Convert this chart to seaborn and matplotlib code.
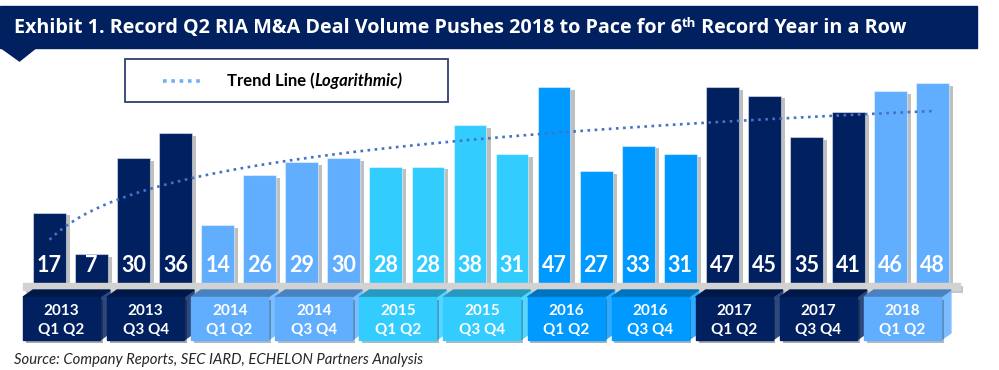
import matplotlib
matplotlib.use("Agg")
import matplotlib.pyplot as plt
import matplotlib.patheffects as pe
from matplotlib.patches import Rectangle, Polygon
from matplotlib.lines import Line2D
from matplotlib.colors import to_rgb
import numpy as np
import seaborn as sns

# data (deal count per quarter)
bar_pos = list(range(1, 23))
deals = [17, 7, 30, 36, 14, 26, 29, 30, 28, 28, 38, 31,
         47, 27, 33, 31, 47, 45, 35, 41, 46, 48]
bar_years = ["2013"] * 4 + ["2014"] * 4 + ["2015"] * 4 + ["2016"] * 4 + ["2017"] * 4 + ["2018"] * 2
box_years = ["2013", "2013", "2014", "2014", "2015", "2015", "2016", "2016", "2017", "2017", "2018"]
box_halves = ["Q1 Q2", "Q3 Q4", "Q1 Q2", "Q3 Q4", "Q1 Q2", "Q3 Q4", "Q1 Q2", "Q3 Q4", "Q1 Q2", "Q3 Q4", "Q1 Q2"]

NAVY = "#002060"
year_colors = {"2013": NAVY, "2014": "#61AEFF", "2015": "#33CCFF",
               "2016": "#0099FF", "2017": NAVY, "2018": "#61AEFF"}

sns.set_theme(style="white")
plt.rcParams["font.family"] = ["Lato", "DejaVu Sans"]

W, H = 999, 370
fig = plt.figure(figsize=(W / 100, H / 100), dpi=100)

# main axes: placed so that 1 unit = 42.05 px in x and 4.18 px in y
px_x, px_y, base_px = 42.05, 4.18, 283.7
ax = fig.add_axes([28.5 / W, (H - base_px) / H, 925 / W, 223.7 / H])

sns.barplot(x=bar_pos, y=deals, hue=bar_years, palette=year_colors, native_scale=True,
            width=0.78, dodge=False, legend=False, saturation=1, ax=ax,
            edgecolor=(1, 1, 1, 0.45), linewidth=0.8)
for p in ax.patches:
    p.set_path_effects([pe.SimplePatchShadow(offset=(3, -2), shadow_rgbFace="#8c8c8c", alpha=0.55),
                        pe.Normal()])

# logarithmic trend line
sns.regplot(x=bar_pos, y=deals, logx=True, ci=None, scatter=False, ax=ax,
            line_kws=dict(color="#4472C4", lw=1.9, linestyle=(0, (1, 1.7)), zorder=3))

ax.set_xlim(0.5, 22.5)
ax.set_ylim(0, 53.5)
ax.axis("off")

# value labels inside bars
for x, v in zip(bar_pos, deals):
    ax.text(x, 4.47, str(v), ha="center", va="center", color="white",
            fontsize=15.5, fontweight="bold", zorder=4)


def dy(px):
    return (base_px - px) / px_y


def dx(px):
    return (px - 28.5) / px_x + 0.5


def shade(c, f):
    r = np.array(to_rgb(c))
    return tuple(r * (1 - f)) if f > 0 else tuple(r + (1 - r) * (-f))


# grey base strip
ax.add_patch(Rectangle((dx(23), dy(290)), dx(960) - dx(23), dy(283.2) - dy(290),
                       color="#d2d2d2", clip_on=False, zorder=1,
                       path_effects=[pe.SimplePatchShadow(offset=(2, -2), alpha=0.3), pe.Normal()]))

# 3D period boxes under the bars
d = 10 / px_x
for j, (yr, half) in enumerate(zip(box_years, box_halves)):
    c = year_colors[yr]
    x0 = dx(23) + 2 * j
    x1 = dx(100) + 2 * j
    yt, yf, yb, ys = dy(290), dy(297), dy(340), dy(333)
    ax.add_patch(Polygon([(x1, yf), (x1 + d, yt), (x1 + d, ys), (x1, yb)], closed=True,
                         color=shade(c, -0.18), clip_on=False, zorder=1))
    ax.add_patch(Polygon([(x0, yf), (x1, yf), (x1 + d, yt), (x0 + d, yt)], closed=True,
                         color=shade(c, 0.25), clip_on=False, zorder=1))
    ax.add_patch(Rectangle((x0, yb), x1 - x0, yf - yb, color=c, clip_on=False, zorder=1,
                           path_effects=[pe.SimplePatchShadow(offset=(2, -2), alpha=0.35), pe.Normal()]))
    xc = (x0 + x1) / 2
    ax.text(xc, dy(311), yr, ha="center", va="center", color="white",
            fontsize=11, fontweight="bold", zorder=2)
    ax.text(xc, dy(330), half, ha="center", va="center", color="white",
            fontsize=11, fontweight="bold", zorder=2)

# decoration layer in pixel coordinates
deco = fig.add_axes([0, 0, 1, 1], facecolor="none")
deco.set_xlim(0, W)
deco.set_ylim(H, 0)
deco.axis("off")

deco.add_patch(Rectangle((0, 6), 977, 41.5, color=NAVY))
deco.add_patch(Polygon([(0, 47), (37, 47), (19.5, 61)], closed=True, color=NAVY))

fig.canvas.draw()
renderer = fig.canvas.get_renderer()


def chain(parts, x, y):
    for txt, kw in parts:
        t = deco.text(x, y + kw.pop("rise", 0), txt, va="baseline", ha="left", **kw)
        x += t.get_window_extent(renderer).width
    return x


title_kw = dict(color="white", fontsize=14.2, fontweight="bold", family=["Open Sans", "DejaVu Sans"])
chain([("Exhibit 1. Record Q2 RIA M&A Deal Volume Pushes 2018 to Pace for 6", dict(title_kw)),
       ("th", dict(title_kw, fontsize=9.5, rise=-6)),
       (" Record Year in a Row", dict(title_kw))], 14, 33)

# legend box
deco.add_patch(Rectangle((125, 59), 323, 43, facecolor="white", edgecolor="#2f3f6f", lw=1.3))
deco.add_line(Line2D([163, 204], [81, 81], color="#6FB0F7", lw=2.6, linestyle=(0, (1, 1.3))))
chain([("Trend Line (", dict(color="black", fontsize=12, fontweight="bold")),
       ("Logarithmic)", dict(color="black", fontsize=12, fontweight="bold", style="italic"))],
      227, 86)

deco.text(14, 360, "Source: Company Reports, SEC IARD, ECHELON Partners Analysis",
          ha="left", va="center", fontsize=10.7, style="italic", color="#262626")

fig.savefig("out.png", dpi=100)
